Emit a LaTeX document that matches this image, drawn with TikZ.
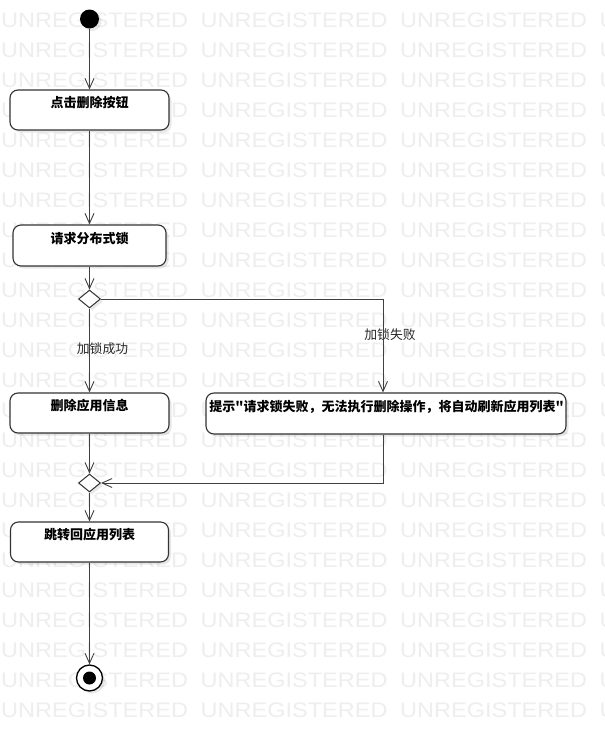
\documentclass[tikz,border=0pt]{standalone}
\usepackage{fontspec}
\setmainfont{Liberation Sans}
\newfontfamily\cjk{Noto Sans CJK SC}
\newfontfamily\wmfont{Liberation Sans}
\usetikzlibrary{arrows.meta,shapes.geometric,shadows}
\begin{document}
\begin{tikzpicture}[x=1pt,y=-1pt,
  wm/.style={anchor=base west, inner sep=0pt, text=black!6.5,
    font=\wmfont\fontsize{21}{21}\selectfont},
  shad/.style={drop shadow={shadow xshift=2.5pt, shadow yshift=-2.5pt, opacity=0.09, fill=black}},
  box/.style={draw=black!80, line width=1.1pt, fill=white, rounded corners=8pt, shad, inner sep=0pt},
  txt/.style={font=\cjk\bfseries\fontsize{13}{15}\selectfont, inner sep=0pt, text=black},
  lbl/.style={font=\cjk\fontsize{12.8}{15}\selectfont, inner sep=0pt, text=black!85},
  dia/.style={diamond, aspect=1.22, draw=black!80, line width=1pt, fill=white, minimum width=22pt, minimum height=18pt, inner sep=0pt, shad},
  startn/.style={circle, fill=black, minimum size=19pt, inner sep=0pt, shad},
  endo/.style={circle, draw=black, line width=1.3pt, fill=white, minimum size=26pt, inner sep=0pt, shad},
  endi/.style={circle, fill=black, minimum size=13pt, inner sep=0pt},
  arr/.style={draw=black!75, line width=0.9pt, -{Straight Barb[length=10pt,width=9pt,line width=0.9pt]}}
]
\useasboundingbox (0,0) rectangle (605,731);
\begin{scope}
\clip (0,0) rectangle (605,731);
\fill[white] (0,0) rectangle (605,731);
\foreach \r in {0,...,23}{
  \foreach \c in {0,1,2,3}{
    \node[wm] (wm-\r-\c) at (1+\c*199.5, 27+30*\r) {\scalebox{1.12}[1]{UNREGISTERED}};
  }
}
\end{scope}

% nodes
\node[startn] (s) at (89.5,19) {};
\node[box, minimum width=159pt, minimum height=40pt] (b1) at (89.5,110) {};
\node[txt] (t1) at (89.5,103) {点击删除按钮};
\node[box, minimum width=153pt, minimum height=41pt] (b2) at (89.5,245.5) {};
\node[txt] (t2) at (89.5,239) {请求分布式锁};
\node[dia] (d1) at (89.5,299) {};
\node[box, minimum width=159pt, minimum height=40pt] (b3) at (89.5,413) {};
\node[txt] (t3) at (89.5,406) {删除应用信息};
\node[box, minimum width=360pt, minimum height=41pt] (b4) at (386,413.5) {};
\node[txt] (t4) at (386.5,407) {提示"请求锁失败，无法执行删除操作，将自动刷新应用列表"};
\node[dia] (d2) at (89.5,483) {};
\node[box, minimum width=158pt, minimum height=40pt] (b5) at (89.5,542) {};
\node[txt] (t5) at (89.5,535) {跳转回应用列表};
\node[endo] (e) at (89.5,678) {};
\node[endi] (ei) at (89.5,678) {};

\node[lbl] (l1) at (102.5,349) {加锁成功};
\node[lbl] (l2) at (390,335) {加锁失败};

\coordinate (k) at (383,0);

% connectors
\draw[arr] (s) -- (b1);
\draw[arr] (b1) -- (b2);
\draw[arr] (b2) -- (d1.north);
\draw[arr] (d1.south) -- (b3);
\draw[arr] (d1.east) -| (b4.north -| k);
\draw[arr] (b3) -- (d2.north);
\draw[arr] (b4.south -| k) |- (d2.east);
\draw[arr] (d2.south) -- (b5);
\draw[arr] (b5) -- (e);
\end{tikzpicture}
\end{document}
